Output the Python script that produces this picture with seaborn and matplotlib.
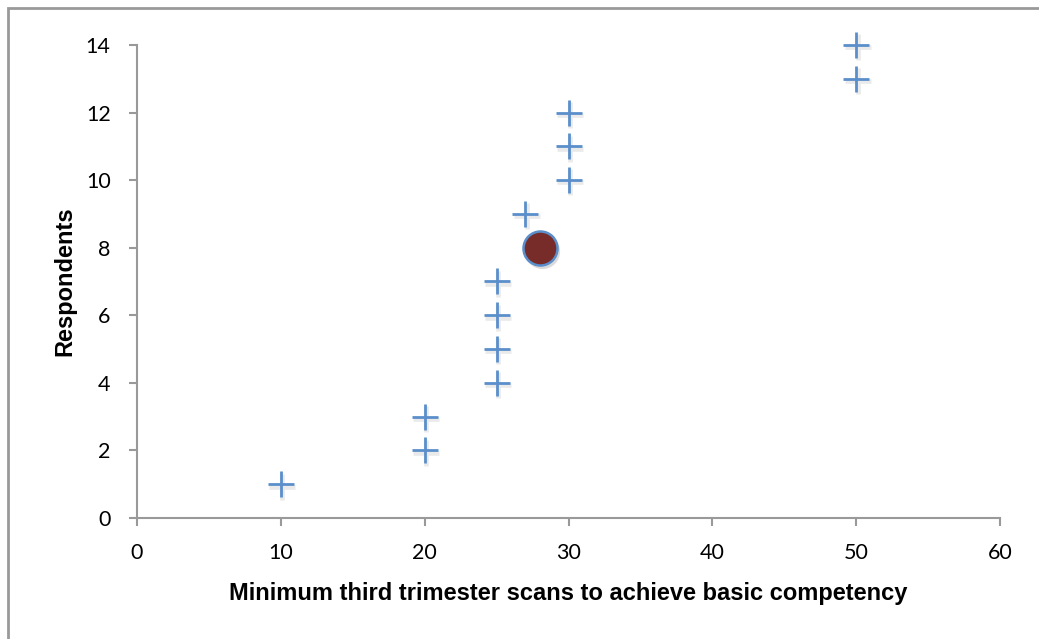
import matplotlib
matplotlib.use("Agg")
import matplotlib.pyplot as plt
import seaborn as sns
import pandas as pd
from matplotlib.patches import Rectangle

scans = [10, 20, 20, 25, 25, 25, 25, 27, 30, 30, 30, 50, 50]
respondents = [1, 2, 3, 4, 5, 6, 7, 9, 10, 11, 12, 13, 14]
mean_scans = [28]
mean_respondents = [8]

sns.set_theme(style="white")
plt.rcParams['font.family'] = ['Liberation Sans', 'DejaVu Sans']

fig = plt.figure(figsize=(10.39, 6.39), dpi=100)
ax = fig.add_axes([0.1319, 0.1894, 0.8306, 0.7402])

df = pd.DataFrame({"x": scans, "y": respondents})
dm = pd.DataFrame({"x": mean_scans, "y": mean_respondents})

# soft shadow for plus markers
sns.scatterplot(x=[v + 0.1 for v in scans], y=[v - 0.07 for v in respondents],
                marker="+", s=360, linewidth=3.4, color="#bbbbbb", alpha=0.3, ax=ax,
                zorder=2, clip_on=False)
sns.scatterplot(data=df, x="x", y="y", marker="+", s=360, linewidth=2.0,
                color="#5b8fcb", ax=ax, zorder=3, clip_on=False)
# soft shadow for circle
sns.scatterplot(x=[v + 0.12 for v in mean_scans], y=[v - 0.1 for v in mean_respondents],
                marker="o", s=640, color="#999999", alpha=0.35, linewidth=0, ax=ax, zorder=3)
sns.scatterplot(data=dm, x="x", y="y", marker="o", s=600, color="#772c2a",
                edgecolor="#5b8fcb", linewidth=1.8, ax=ax, zorder=4)

ax.set_xlim(0, 60)
ax.set_ylim(0, 14)
ax.set_xticks(range(0, 61, 10))
ax.set_yticks(range(0, 15, 2))
for s in ["top", "right"]:
    ax.spines[s].set_visible(False)
for s in ["left", "bottom"]:
    ax.spines[s].set_color("#999999")
    ax.spines[s].set_linewidth(1.5)
ax.tick_params(axis="both", which="both", direction="out", length=6, width=1.5,
               color="#999999", labelsize=15.5, labelcolor="black",
               bottom=True, left=True)
ax.tick_params(axis="x", pad=12)
ax.tick_params(axis="y", pad=13)
for lab in ax.get_xticklabels() + ax.get_yticklabels():
    lab.set_family(['Lato', 'DejaVu Sans'])
ax.set_xlabel("Minimum third trimester scans to achieve basic competency",
              fontsize=17, fontweight="bold", labelpad=14, color="black")
ax.set_ylabel("Respondents", fontsize=17, fontweight="bold", labelpad=7, color="black")
ax.grid(False)

fig.patches.append(Rectangle((8 / 1039, -0.1), 1.2, 1.1 - 8 / 639, transform=fig.transFigure,
                             fill=False, edgecolor="#999999", linewidth=2, zorder=0))

fig.savefig("out.png", dpi=100)
